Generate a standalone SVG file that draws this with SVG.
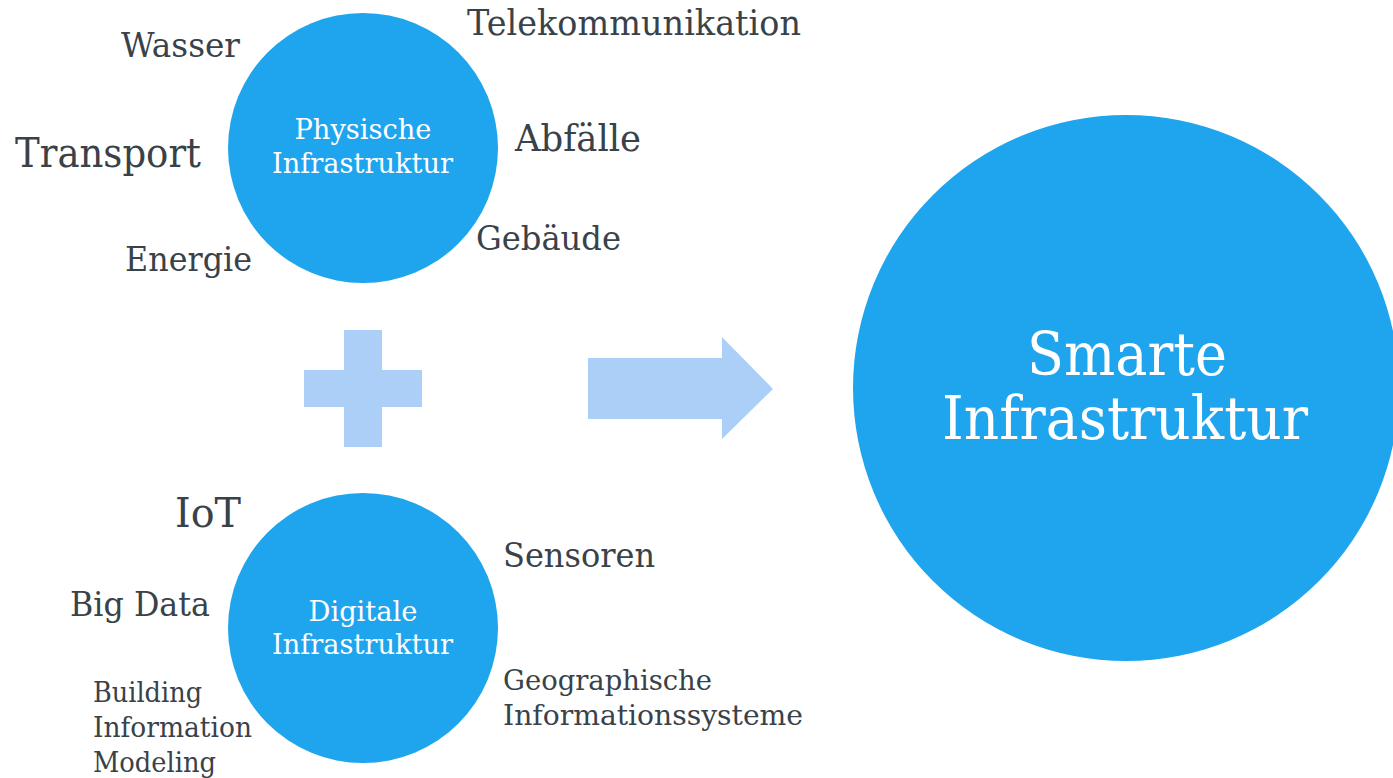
<svg xmlns="http://www.w3.org/2000/svg" width="1393" height="778" viewBox="0 0 1393 778">
<style>
.c{fill:#1FA5EE}
.s{fill:#ABCFF6}
.t{font-family:"DejaVu Serif","Liberation Serif",serif;fill:#394249}
.w{font-family:"DejaVu Serif","Liberation Serif",serif;fill:#FFFFFF;text-anchor:middle}
</style>
<rect width="1393" height="778" fill="#FFFFFF"/>
<g id="physisch">
<circle class="c" cx="363" cy="148" r="135"/>
<text class="w" font-size="28" x="363" y="139" textLength="137" lengthAdjust="spacingAndGlyphs">Physische</text>
<text class="w" font-size="28" x="362.5" y="173" textLength="181" lengthAdjust="spacingAndGlyphs">Infrastruktur</text>
</g>
<g id="physisch-labels">
<text class="t" font-size="34" x="121" y="57" textLength="119" lengthAdjust="spacingAndGlyphs">Wasser</text>
<text class="t" font-size="36" x="467" y="35" textLength="334" lengthAdjust="spacingAndGlyphs">Telekommunikation</text>
<text class="t" font-size="41" x="15" y="167" textLength="186" lengthAdjust="spacingAndGlyphs">Transport</text>
<text class="t" font-size="38" x="515" y="151" textLength="126" lengthAdjust="spacingAndGlyphs">Abfälle</text>
<text class="t" font-size="34" x="476" y="250" textLength="145" lengthAdjust="spacingAndGlyphs">Gebäude</text>
<text class="t" font-size="34" x="125" y="271" textLength="127" lengthAdjust="spacingAndGlyphs">Energie</text>
</g>
<g id="digital">
<circle class="c" cx="363" cy="628" r="135"/>
<text class="w" font-size="28" x="363" y="621" textLength="109" lengthAdjust="spacingAndGlyphs">Digitale</text>
<text class="w" font-size="28" x="362.5" y="654" textLength="181" lengthAdjust="spacingAndGlyphs">Infrastruktur</text>
</g>
<g id="digital-labels">
<text class="t" font-size="41" x="175" y="527" textLength="66" lengthAdjust="spacingAndGlyphs">IoT</text>
<text class="t" font-size="34" x="503" y="567" textLength="152" lengthAdjust="spacingAndGlyphs">Sensoren</text>
<text class="t" font-size="34" x="70" y="616" textLength="140" lengthAdjust="spacingAndGlyphs">Big Data</text>
<text class="t" font-size="28" x="503" y="690" textLength="209" lengthAdjust="spacingAndGlyphs">Geographische</text>
<text class="t" font-size="28" x="503" y="725" textLength="300" lengthAdjust="spacingAndGlyphs">Informationssysteme</text>
<text class="t" font-size="28" x="93" y="702" textLength="109" lengthAdjust="spacingAndGlyphs">Building</text>
<text class="t" font-size="28" x="93" y="737" textLength="159" lengthAdjust="spacingAndGlyphs">Information</text>
<text class="t" font-size="28" x="93" y="772" textLength="123" lengthAdjust="spacingAndGlyphs">Modeling</text>
</g>
<g id="plus">
<path class="s" d="M344 330H382V370H422V407H382V447H344V407H304V370H344Z"/>
</g>
<g id="connectors">
<path class="s" d="M588 358H722V337L773 389L722 439V419H588Z"/>
</g>
<g id="smart">
<circle class="c" cx="1126" cy="388" r="273"/>
<text class="w" font-size="59" x="1127" y="375" textLength="200" lengthAdjust="spacingAndGlyphs">Smarte</text>
<text class="w" font-size="59" x="1125" y="439" textLength="366" lengthAdjust="spacingAndGlyphs">Infrastruktur</text>
</g>
</svg>
